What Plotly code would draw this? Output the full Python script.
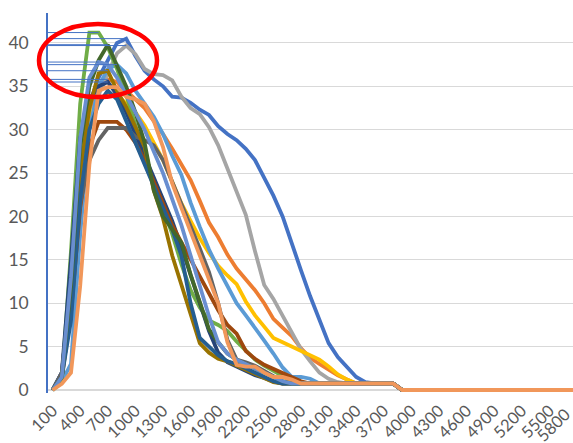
import plotly.graph_objects as go

# Category axis: bin centres from 100 to 5800 in steps of 100
categories = [
    "100", "200", "300", "400", "500", "600", "700", "800", "900", "1000",
    "1100", "1200", "1300", "1400", "1500", "1600", "1700", "1800", "1900", "2000",
    "2100", "2200", "2300", "2400", "2500", "2600", "2700", "2800", "2900", "3000",
    "3100", "3200", "3300", "3400", "3500", "3600", "3700", "3800", "3900", "4000",
    "4100", "4200", "4300", "4400", "4500", "4600", "4700", "4800", "4900", "5000",
    "5100", "5200", "5300", "5400", "5500", "5600", "5700", "5800",
]
tick_labels = [
    "100", "400", "700", "1000", "1300", "1600", "1900", "2200", "2500", "2800",
    "3100", "3400", "3700", "4000", "4300", "4600", "4900", "5200", "5500",
]
last_tick_label = "5800"

s01 = [0, 2, 12, 27, 33, 36, 38, 40, 40.5, 38.5, 36.8, 35.8, 35, 33.8, 33.7, 33.1, 32.3, 31.7, 30.4, 29.5,
       28.8, 27.8, 26.5, 24.5, 22.4, 20, 16.8, 13.8, 10.8, 8.2, 5.4, 3.8, 2.6, 1.5, 0.9, 0.75, 0.75, 0.75, 0, 0,
       0, 0, 0, 0, 0, 0, 0, 0, 0, 0, 0, 0, 0, 0, 0, 0, 0, 0]
s02 = [0, 1.5, 10, 25, 32, 34.5, 35.8, 35.5, 34.5, 33.5, 32.5, 31, 29.5, 27.8, 26.1, 24.2, 21.8, 19.3, 17.6, 15.6,
       14, 12.7, 11.5, 10, 8.2, 7.2, 6.2, 4.8, 3.7, 3, 2.3, 1.7, 1.2, 0.75, 0.75, 0.75, 0.75, 0.75, 0, 0,
       0, 0, 0, 0, 0, 0, 0, 0, 0, 0, 0, 0, 0, 0, 0, 0, 0, 0]
s03 = [0, 1, 10, 24, 31, 34, 36.5, 38.8, 39.7, 38.7, 37, 36.4, 36.3, 35.7, 33.8, 32.5, 31.8, 30.3, 28.2, 25.6,
       23, 20.2, 16, 12.1, 10.5, 8.5, 6.5, 4.7, 3.3, 2, 1.3, 0.9, 0.75, 0.75, 0.75, 0.75, 0.75, 0.75, 0, 0,
       0, 0, 0, 0, 0, 0, 0, 0, 0, 0, 0, 0, 0, 0, 0, 0, 0, 0]
s04 = [0, 1.5, 11, 26, 31.5, 33.5, 34, 34, 33, 32, 30.5, 28.5, 26.5, 24, 21.5, 19.5, 17.5, 15.8, 14.3, 13.2,
       12.2, 10.2, 8.6, 7.3, 6, 5.5, 5, 4.5, 4, 3.5, 2.7, 1.8, 1.2, 0.75, 0.75, 0.75, 0.75, 0.75, 0, 0,
       0, 0, 0, 0, 0, 0, 0, 0, 0, 0, 0, 0, 0, 0, 0, 0, 0, 0]
s05 = [0, 1, 3, 18, 30, 35, 37, 37.5, 36.5, 34.5, 33, 31.5, 29.5, 27, 24.8, 21.6, 18.8, 16.2, 14, 12,
       10, 8.6, 7.2, 5.7, 4.2, 2.6, 1.5, 1.5, 1.3, 0.75, 0.75, 0.75, 0.75, 0.75, 0.75, 0.75, 0.75, 0.75, 0, 0,
       0, 0, 0, 0, 0, 0, 0, 0, 0, 0, 0, 0, 0, 0, 0, 0, 0, 0]
s06 = [0, 1, 16, 33, 41.2, 41.2, 39.5, 37, 34, 30.5, 27, 23.5, 21, 18, 14.5, 11.5, 9.5, 8, 7.5, 6.8,
       5.6, 4.5, 3.5, 2.8, 2.2, 1.5, 1, 0.75, 0.75, 0.75, 0.75, 0.75, 0.75, 0.75, 0.75, 0.75, 0.75, 0.75, 0, 0,
       0, 0, 0, 0, 0, 0, 0, 0, 0, 0, 0, 0, 0, 0, 0, 0, 0, 0]
s07 = [0, 2, 15, 29, 33.5, 35, 35.5, 34, 32, 29.5, 27, 24.5, 22, 19.5, 16.5, 13.2, 10, 6.8, 4.3, 3.2,
       2.7, 2.2, 1.7, 1.4, 1, 0.75, 0.75, 0.75, 0.75, 0.75, 0.75, 0.75, 0.75, 0.75, 0.75, 0.75, 0.75, 0.75, 0, 0,
       0, 0, 0, 0, 0, 0, 0, 0, 0, 0, 0, 0, 0, 0, 0, 0, 0, 0]
s08 = [0, 1.5, 9, 21, 28, 30.9, 30.9, 30.9, 30, 28.5, 26.5, 24, 21.5, 19, 17, 15, 13, 11, 9.2, 7.5,
       6.5, 4.5, 3.6, 2.9, 2.4, 2, 1.5, 1, 0.75, 0.75, 0.75, 0.75, 0.75, 0.75, 0.75, 0.75, 0.75, 0.75, 0, 0,
       0, 0, 0, 0, 0, 0, 0, 0, 0, 0, 0, 0, 0, 0, 0, 0, 0, 0]
s09 = [0, 2, 12, 21.5, 26.5, 28.8, 30.2, 30.2, 30.2, 29.2, 28.8, 28.2, 26.5, 24, 21.5, 19, 16.3, 13.6, 10, 5.8,
       3.5, 3.2, 2.8, 2.2, 1.6, 1, 0.75, 0.75, 0.75, 0.75, 0.75, 0.75, 0.75, 0.75, 0.75, 0.75, 0.75, 0.75, 0, 0,
       0, 0, 0, 0, 0, 0, 0, 0, 0, 0, 0, 0, 0, 0, 0, 0, 0, 0]
s10 = [0, 1.5, 11, 25, 32.5, 36.5, 36.8, 34.5, 32.6, 30.2, 28, 23, 19.8, 15.5, 12.2, 8.6, 5.4, 4.3, 3.6, 3.3,
       2.8, 2.3, 1.8, 1.3, 0.9, 0.75, 0.75, 0.75, 0.75, 0.75, 0.75, 0.75, 0.75, 0.75, 0.75, 0.75, 0.75, 0.75, 0, 0,
       0, 0, 0, 0, 0, 0, 0, 0, 0, 0, 0, 0, 0, 0, 0, 0, 0, 0]
s11 = [0, 1.5, 8, 22, 30, 33, 34.5, 33.5, 31, 28.5, 26, 23.5, 21, 18.5, 15.5, 10, 6, 5, 4, 3.3,
       3, 2.5, 2, 1.5, 1, 0.75, 0.75, 0.75, 0.75, 0.75, 0.75, 0.75, 0.75, 0.75, 0.75, 0.75, 0.75, 0.75, 0, 0,
       0, 0, 0, 0, 0, 0, 0, 0, 0, 0, 0, 0, 0, 0, 0, 0, 0, 0]
s12 = [0, 1.5, 12, 28, 35, 38, 39.8, 37.5, 35, 32, 28.5, 23, 20, 18.5, 17, 13.3, 10, 7, 5.5, 4.2,
       3.5, 3, 2.5, 2, 1.5, 1, 0.75, 0.75, 0.75, 0.75, 0.75, 0.75, 0.75, 0.75, 0.75, 0.75, 0.75, 0.75, 0, 0,
       0, 0, 0, 0, 0, 0, 0, 0, 0, 0, 0, 0, 0, 0, 0, 0, 0, 0]
s13 = [0, 1.5, 13, 29, 36, 37.8, 37.5, 36, 34, 32, 30, 27.5, 25, 22, 19, 15.5, 12, 8.5, 5.5, 4.2,
       3.5, 3, 2.5, 2, 1.5, 1, 0.75, 0.75, 0.75, 0.75, 0.75, 0.75, 0.75, 0.75, 0.75, 0.75, 0.75, 0.75, 0, 0,
       0, 0, 0, 0, 0, 0, 0, 0, 0, 0, 0, 0, 0, 0, 0, 0, 0, 0]
s14 = [0, 0.7, 2, 12, 26, 34.5, 34.9, 34.9, 33.8, 33.5, 33, 31, 28, 23.8, 21, 18.2, 15.5, 12.5, 10, 5.5,
       2.9, 2.7, 2.7, 2, 1.5, 1.5, 1.2, 0.75, 0.75, 0.75, 0.75, 0.75, 0.75, 0.75, 0.75, 0.75, 0.75, 0.75, 0, 0,
       0, 0, 0, 0, 0, 0, 0, 0, 0, 0, 0, 0, 0, 0, 0, 0, 0, 0]

series = [s01, s02, s03, s04, s05, s06, s07, s08, s09, s10, s11, s12, s13, s14]
colors = ["#4472C4", "#ED7D31", "#A5A5A5", "#FFC000", "#5B9BD5", "#70AD47", "#264478",
          "#9E480E", "#636363", "#997300", "#255E91", "#43682B", "#698ED0", "#F1975A"]

W, H = 573, 443
M_L, M_R, M_T, M_B = 48, 0, 13, 50
STEP = 9.2          # pixels per category
PX_PER_UNIT = 8.676  # pixels per y unit
plot_w = W - M_L - M_R
plot_h = H - M_T - M_B
x_range = [-0.5, -0.5 + plot_w / STEP]
y_min = -3 / PX_PER_UNIT
y_range = [y_min, y_min + plot_h / PX_PER_UNIT]

fig = go.Figure()
for vals, col in zip(series, colors):
    fig.add_trace(go.Scatter(
        x=categories, y=vals, mode="lines",
        line=dict(color=col, width=3.8),
        hoverinfo="skip", showlegend=False,
    ))

font_y = dict(family="Lato, 'Open Sans', sans-serif", size=17.5, color="#595959")
font_x = dict(family="Lato, 'Open Sans', sans-serif", size=16.5, color="#595959")

# thin leader lines from the axis to each tall peak
shapes = []
for vals in series:
    peak = max(vals)
    if peak >= 35:
        idx = max(i for i, v in enumerate(vals) if v == peak)
        shapes.append(dict(type="line", xref="x", yref="y",
                           x0=x_range[0], x1=idx, y0=peak, y1=peak,
                           line=dict(color="#4472C4", width=1), layer="above"))


def px_to_paper_x(px):
    return (px - M_L) / plot_w


def px_to_paper_y(py):
    return (H - M_B - py) / plot_h


# red highlight ring around the peak region
shapes.append(dict(type="circle", xref="paper", yref="paper",
                   x0=px_to_paper_x(39), x1=px_to_paper_x(157),
                   y0=px_to_paper_y(97), y1=px_to_paper_y(24),
                   line=dict(color="#FF0000", width=4.5), layer="above"))

fig.update_layout(
    width=W, height=H,
    margin=dict(l=M_L, r=M_R, t=M_T, b=M_B),
    paper_bgcolor="white", plot_bgcolor="white",
    shapes=shapes,
    xaxis=dict(
        type="category", range=x_range, automargin=False,
        tickmode="array", tickvals=tick_labels, ticktext=tick_labels,
        tickangle=-45, tickfont=font_x, showgrid=False, showline=False,
        zeroline=False, ticks="", ticklabelstandoff=4,
    ),
    yaxis=dict(
        range=y_range, tick0=0, dtick=5, tickfont=font_y, automargin=False,
        showgrid=True, gridcolor="#D9D9D9", gridwidth=1.3,
        zeroline=True, zerolinecolor="#D9D9D9", zerolinewidth=1.5,
        showline=True, linecolor="#4472C4", linewidth=1.5,
        ticks="", ticklabelstandoff=14,
    ),
)

# the last category label sits just past the right edge of the plot
fig.add_annotation(
    x=(57 - x_range[0]) / (x_range[1] - x_range[0]), y=0,
    xref="paper", yref="paper", text=last_tick_label, showarrow=False,
    textangle=-45, font=font_x, xanchor="right", yanchor="top", yshift=-8,
)

fig.write_html("out.html")
